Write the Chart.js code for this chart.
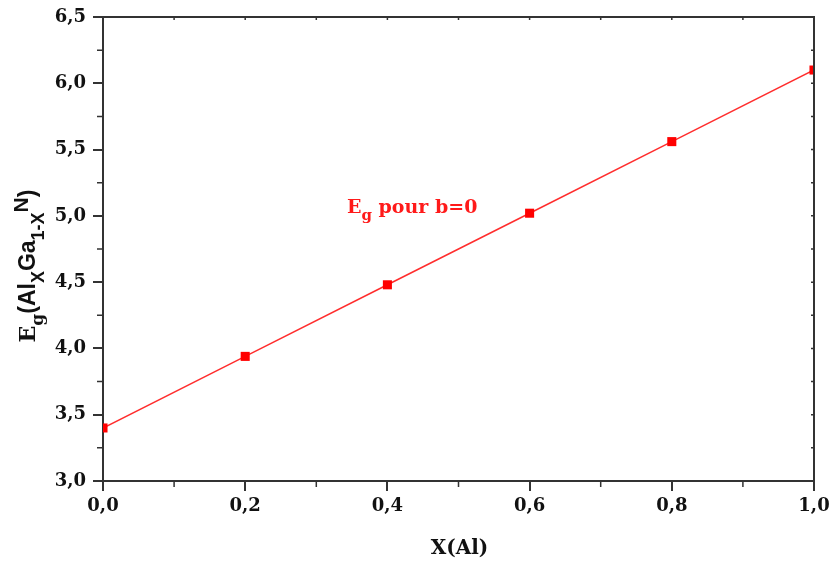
<!DOCTYPE html>
<html>
<head>
<meta charset="utf-8">
<script src="https://cdn.jsdelivr.net/npm/chart.js@4/dist/chart.umd.min.js"></script>
<style>
  body { margin: 0; background: #fff; }
</style>
</head>
<body>
<canvas id="myChart" width="831" height="567"></canvas>
<script>
// Eg of AlxGa1-xN versus Al fraction, bowing b = 0
var xAl = [0.0, 0.2, 0.4, 0.6, 0.8, 1.0];
var egB0 = [3.40, 3.94, 4.48, 5.02, 5.56, 6.10];
var xTicks = [0, 0.2, 0.4, 0.6, 0.8, 1.0];
var yTicks = [3.0, 3.5, 4.0, 4.5, 5.0, 5.5, 6.0, 6.5];

var serif = '"DejaVu Serif", serif';
var sans = '"Liberation Sans", Arial, sans-serif';
var axisColor = '#333';

function comma(v) {
    return v.toFixed(1).replace('.', ',');
}

// draws a run of text pieces (sub/superscripts) starting at x, baseline y
function drawRuns(ctx, runs, x, y) {
    runs.forEach(function (r) {
        ctx.font = r.font;
        ctx.fillText(r.t, x, y + (r.dy || 0));
        x += ctx.measureText(r.t).width;
    });
}

function runsWidth(ctx, runs) {
    var w = 0;
    runs.forEach(function (r) {
        ctx.font = r.font;
        w += ctx.measureText(r.t).width;
    });
    return w;
}

var yTitle = [
    { t: 'E', font: 'bold 22px ' + serif },
    { t: 'g', font: 'bold 17px ' + serif, dy: 8 },
    { t: '(Al', font: 'bold 23px ' + sans },
    { t: 'X', font: 'bold 18px ' + sans, dy: 9 },
    { t: 'Ga', font: 'bold 23px ' + sans },
    { t: '1-X', font: 'bold 18px ' + sans, dy: 9 },
    { t: 'N', font: 'bold 21px ' + sans, dy: -7 },
    { t: ')', font: 'bold 23px ' + sans }
];

var curveLabel = [
    { t: 'E', font: 'bold 19px ' + serif },
    { t: 'g', font: 'bold 15px ' + serif, dy: 7 },
    { t: ' pour b=0', font: 'bold 19px ' + serif }
];

// frame, minor ticks and the text with subscripts
var decorations = {
    id: 'decorations',
    afterDatasetsDraw: function (chart) {
        var ctx = chart.ctx;
        var a = chart.chartArea;
        var xs = chart.scales.x, ys = chart.scales.y;
        ctx.save();
        ctx.strokeStyle = axisColor;
        ctx.lineWidth = 2;

        // top and right sides of the box
        ctx.beginPath();
        ctx.moveTo(a.left - 1, a.top);
        ctx.lineTo(a.right, a.top);
        ctx.lineTo(a.right, a.bottom);
        ctx.stroke();

        ctx.lineWidth = 1.5;
        ctx.beginPath();
        for (var i = 1; i < 10; i++) {
            var px = xs.getPixelForValue(i / 10);
            if (i % 2) {
                ctx.moveTo(px, a.bottom);
                ctx.lineTo(px, a.bottom + 6);
            }
            ctx.moveTo(px, a.top);
            ctx.lineTo(px, a.top + 3);
        }
        for (var j = 1; j < 14; j++) {
            var py = ys.getPixelForValue(3 + j * 0.25);
            if (j % 2) {
                ctx.moveTo(a.left, py);
                ctx.lineTo(a.left - 6, py);
            }
            ctx.moveTo(a.right, py);
            ctx.lineTo(a.right - 3, py);
        }
        ctx.stroke();

        ctx.fillStyle = '#111';
        ctx.textBaseline = 'alphabetic';
        ctx.textAlign = 'left';

        // x axis title
        ctx.font = 'bold 20px ' + serif;
        var xt = 'X(Al)';
        ctx.fillText(xt, (a.left + a.right) / 2 - ctx.measureText(xt).width / 2 + 1, 554);

        // y axis title, rotated
        ctx.save();
        ctx.translate(35, 266);
        ctx.rotate(-Math.PI / 2);
        drawRuns(ctx, yTitle, -runsWidth(ctx, yTitle) / 2, 0);
        ctx.restore();

        // curve label
        ctx.fillStyle = '#ff1a1a';
        drawRuns(ctx, curveLabel, 347, 213);
        ctx.restore();
    }
};

var tickFont = { family: serif, size: 18, weight: 'bold' };

var ctx = document.getElementById('myChart').getContext('2d');
var chart = new Chart(ctx, {
    type: 'line',
    data: {
        labels: xAl,
        datasets: [{
            data: xAl.map(function (x, i) { return { x: x, y: egB0[i] }; }),
            borderColor: 'rgb(255, 45, 45)',
            borderWidth: 1.5,
            pointStyle: 'rect',
            pointRadius: 6.4,
            pointBorderWidth: 0,
            pointBackgroundColor: '#ff0000',
            tension: 0
        }]
    },
    options: {
        responsive: false,
        animation: false,
        layout: { padding: { left: 0, top: 17, right: 17, bottom: 0 } },
        plugins: {
            legend: { display: false },
            tooltip: { enabled: false }
        },
        scales: {
            x: {
                type: 'linear',
                min: 0,
                max: 1,
                afterBuildTicks: function (s) {
                    s.ticks = xTicks.map(function (v) { return { value: v }; });
                },
                afterFit: function (s) {
                    s.height = 86;
                    s.paddingLeft = 0;
                    s.paddingRight = 0;
                },
                ticks: {
                    callback: comma,
                    font: tickFont,
                    color: '#111',
                    padding: 5,
                    maxRotation: 0
                },
                grid: { drawOnChartArea: false, tickLength: 10, color: axisColor, lineWidth: 2 },
                border: { color: axisColor, width: 2 }
            },
            y: {
                type: 'linear',
                min: 3,
                max: 6.5,
                afterBuildTicks: function (s) {
                    s.ticks = yTicks.map(function (v) { return { value: v }; });
                },
                afterFit: function (s) {
                    s.width = 103;
                    s.paddingTop = 0;
                    s.paddingBottom = 0;
                },
                ticks: {
                    callback: comma,
                    font: tickFont,
                    color: '#111',
                    padding: 7
                },
                grid: { drawOnChartArea: false, tickLength: 10, color: axisColor, lineWidth: 2 },
                border: { color: axisColor, width: 2 }
            }
        }
    },
    plugins: [decorations]
});
</script>
</body>
</html>
